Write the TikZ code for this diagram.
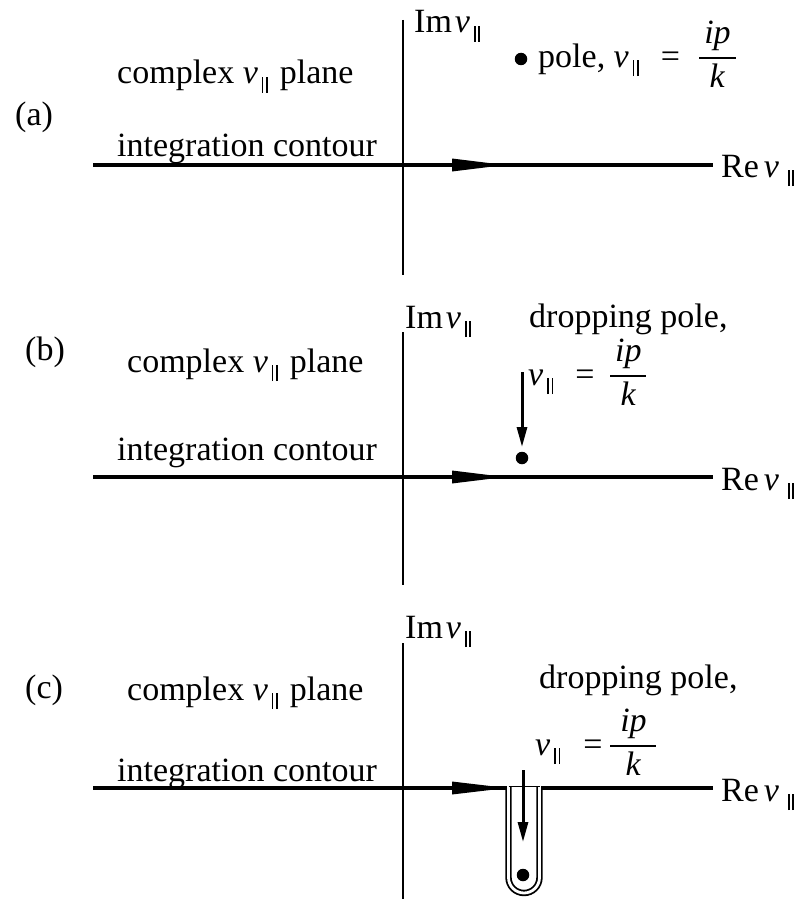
\documentclass[tikz,border=0pt]{standalone}
\usepackage{fontspec}
\setmainfont{Liberation Serif}
\usetikzlibrary{arrows.meta}
\setlength\arrayrulewidth{1.5pt}
\newcommand\vpar[1][4]{\textit{v}\kern#1pt\raisebox{-9pt}{\rule{1.6pt}{16pt}\kern2.8pt\rule{1.6pt}{16pt}}}
\newcommand\ipk[1]{\raisebox{-20.5pt}{\begin{tabular}[b]{@{}c@{}}\makebox[#1pt]{\textit{ip}}\\[2pt]\hline\rule{0pt}{29pt}\textit{k}\end{tabular}}}
\newcommand\vpeq[3]{\vpar\kern#1pt=\kern#2pt\ipk{#3}}
\tikzset{
  lbl/.style={font=\fontsize{34}{40}\selectfont, inner sep=0pt, anchor=base west},
  axisline/.style={line width=2.5pt},
  contour/.style={line width=4.5pt},
  dotnode/.style={circle, fill=black, inner sep=0pt, minimum size=12.5pt},
  droparrow/.style={line width=3pt, -{Triangle[length=20pt,width=10pt]}},
}
\begin{document}
\begin{tikzpicture}[x=1pt,y=-1pt]
\path[use as bounding box] (0,0) rectangle (798,899);

% ---------- panel (a)
\coordinate (ayt) at (403,20);
\coordinate (ayb) at (403,275);
\coordinate (axl) at (93,165);
\coordinate (axr) at (713,165);
\draw[axisline] (ayt) -- (ayb);
\draw[contour] (axl) -- (axr);
\fill (452,158.5) -- (505,165) -- (452,171.5) -- cycle;
\node[lbl] (la) at (15,125.5) {(a)};
\node[lbl] (ca) at (117,84) {complex \vpar\hspace{12pt}plane};
\node[lbl] (ia) at (117,156) {integration contour};
\node[lbl] (ima) at (414,33) {Im\kern3pt\vpar};
\node[lbl] (rea) at (721,177) {Re\kern5pt\vpar[9]};
\node[dotnode] (pa) at (521,59) {};
\node[lbl] (pla) at (538,67) {pole, \vpeq{22}{19}{37}};

% ---------- panel (b)
\coordinate (byt) at (403,332);
\coordinate (byb) at (403,585);
\coordinate (bxl) at (93,477);
\coordinate (bxr) at (713,477);
\draw[axisline] (byt) -- (byb);
\draw[contour] (bxl) -- (bxr);
\fill (452,470.5) -- (505,477) -- (452,483.5) -- cycle;
\node[lbl] (lb) at (25,360) {(b)};
\node[lbl] (cb) at (127,372) {complex \vpar\hspace{12pt}plane};
\node[lbl] (ib) at (117,460) {integration contour};
\node[lbl] (imb) at (405,328) {Im\kern3pt\vpar};
\node[lbl] (reb) at (721,490) {Re\kern5pt\vpar[9]};
\node[lbl] (dpb) at (529,327) {dropping pole,};
\node[lbl] (eqb) at (528,385) {\vpeq{22}{16}{36}};
\coordinate (bas) at (522,372);
\coordinate (bae) at (522,447);
\draw[droparrow] (bas) -- (bae);
\node[dotnode] (pb) at (522,458) {};

% ---------- panel (c)
\coordinate (cyt) at (403,643);
\coordinate (cyb) at (403,899);
\coordinate (cxl) at (93,788);
\coordinate (cul) at (507,788);
\coordinate (cur) at (541,788);
\coordinate (cxr) at (713,788);
\coordinate (ulT) at (508.5,786);
\coordinate (ulB) at (508.5,877.5);
\coordinate (urT) at (539.5,786);
\draw[axisline] (cyt) -- (cyb);
\draw[line width=1.8pt, double=white, double distance=2.8pt]
  (ulT) -- (ulB) arc[start angle=180, end angle=360, radius=15.5pt] -- (urT);
\draw[line width=1pt] (508.5,786.5) -- (539.5,786.5);
\draw[contour] (cxl) -- (cul);
\draw[contour] (cur) -- (cxr);
\fill (452,781.5) -- (507,788) -- (452,794.5) -- cycle;
\node[lbl] (lc) at (25,698) {(c)};
\node[lbl] (cc) at (127,700) {complex \vpar\hspace{12pt}plane};
\node[lbl] (ic) at (117,781) {integration contour};
\node[lbl] (imc) at (405,638) {Im\kern3pt\vpar};
\node[lbl] (rec) at (721,801) {Re\kern5pt\vpar[9]};
\node[lbl] (dpc) at (539,688) {dropping pole,};
\node[lbl] (eqc) at (535,755) {\vpeq{23}{8}{46}};
\coordinate (cas) at (523,770);
\coordinate (cae) at (523,842);
\draw[droparrow] (cas) -- (cae);
\node[dotnode] (pc) at (523,875) {};
\end{tikzpicture}
\end{document}
